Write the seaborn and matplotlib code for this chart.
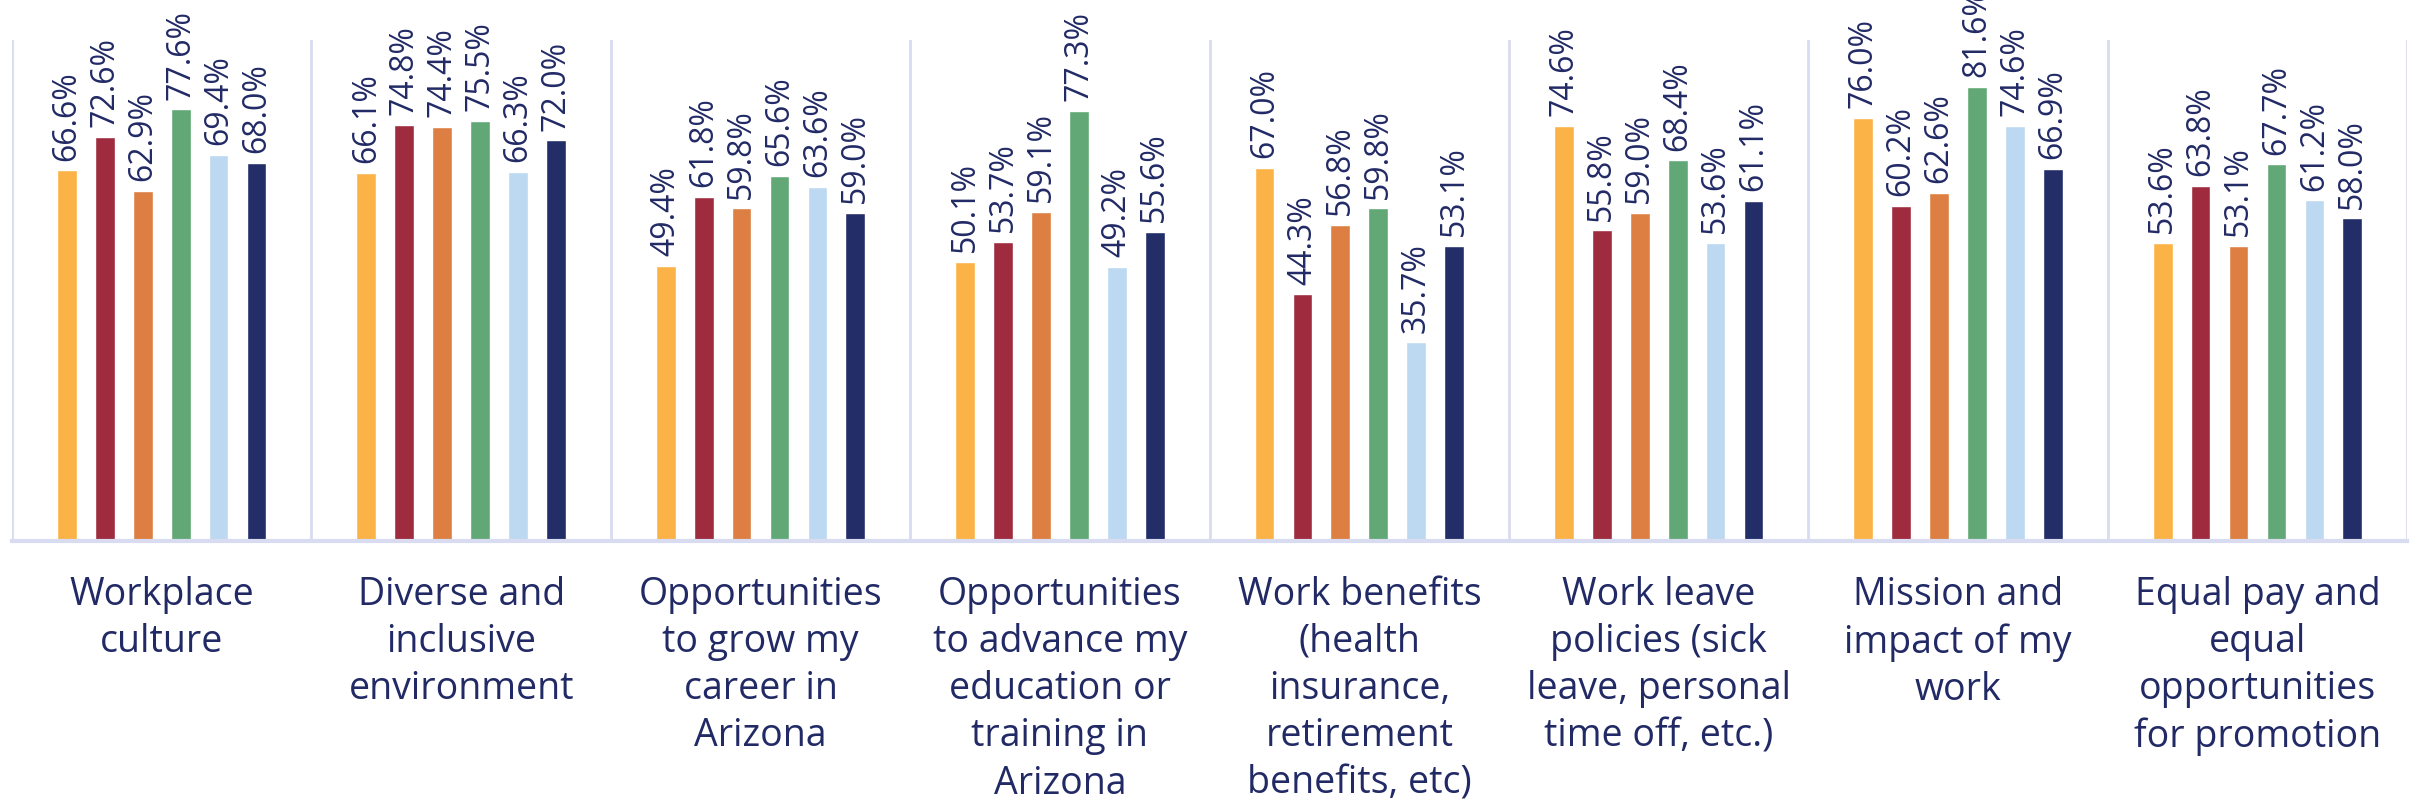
import numpy as np
import pandas as pd
import matplotlib
matplotlib.use('Agg')
import matplotlib.pyplot as plt
import seaborn as sns

# ------------------------------------------------------------
# Veri
# ------------------------------------------------------------
categories = [
    "Workplace\nculture",
    "Diverse and\ninclusive\nenvironment",
    "Opportunities\nto grow my\ncareer in\nArizona",
    "Opportunities\nto advance my\neducation or\ntraining in\nArizona",
    "Work benefits\n(health\ninsurance,\nretirement\nbenefits, etc)",
    "Work leave\npolicies (sick\nleave, personal\ntime off, etc.)",
    "Mission and\nimpact of my\nwork",
    "Equal pay and\nequal\nopportunities\nfor promotion",
]
series = ["S1", "S2", "S3", "S4", "S5", "S6"]

s1 = [66.6, 66.1, 49.4, 50.1, 67.0, 74.6, 76.0, 53.6]
s2 = [72.6, 74.8, 61.8, 53.7, 44.3, 55.8, 60.2, 63.8]
s3 = [62.9, 74.4, 59.8, 59.1, 56.8, 59.0, 62.6, 53.1]
s4 = [77.6, 75.5, 65.6, 77.3, 59.8, 68.4, 81.6, 67.7]
s5 = [69.4, 66.3, 63.6, 49.2, 35.7, 53.6, 74.6, 61.2]
s6 = [68.0, 72.0, 59.0, 55.6, 53.1, 61.1, 66.9, 58.0]

colors = ["#FBB247", "#9E2B3E", "#DD7F43", "#62A876", "#BDD9F2", "#232D68"]
text_color = "#222A66"
line_color = "#D9DCF0"

rows = []
for name, vals in zip(series, [s1, s2, s3, s4, s5, s6]):
    for cat, v in zip(categories, vals):
        rows.append({"Kategori": cat, "Seri": name, "Deger": v})
df = pd.DataFrame(rows)

# ------------------------------------------------------------
# Cizim
# ------------------------------------------------------------
sns.set_style("white")
plt.rcParams['font.family'] = ['Open Sans', 'DejaVu Sans']

fig = plt.figure(figsize=(24.12, 8.06), dpi=100)
ax = fig.add_axes([0.005, 0.329, 0.993, 0.621])

sns.barplot(data=df, x="Kategori", y="Deger", hue="Seri", palette=colors,
            order=categories, hue_order=series, width=0.76, gap=0.48,
            legend=False, ax=ax, saturation=1)

for cont in ax.containers:
    labels = [f"{b.get_height():.1f}%" for b in cont]
    ax.bar_label(cont, labels=labels, rotation=90, padding=7,
                 fontsize=23, color=text_color, clip_on=False)

n = len(categories)
ax.set_xlim(-0.5, n - 0.5)
ax.set_ylim(0, 90)
for b in np.arange(-0.5, n, 1.0):
    ax.axvline(b, color=line_color, lw=2, zorder=0)

for s in ["top", "right", "left"]:
    ax.spines[s].set_visible(False)
ax.spines["bottom"].set_color(line_color)
ax.spines["bottom"].set_linewidth(3)

ax.set_yticks([])
ax.set_xlabel("")
ax.set_ylabel("")
ax.set_xticks(range(n))
ax.set_xticklabels(categories, fontsize=27, color=text_color,
                   linespacing=1.32)
ax.tick_params(axis='x', length=0, pad=25)

fig.savefig("out.png", dpi=100)
plt.close(fig)
